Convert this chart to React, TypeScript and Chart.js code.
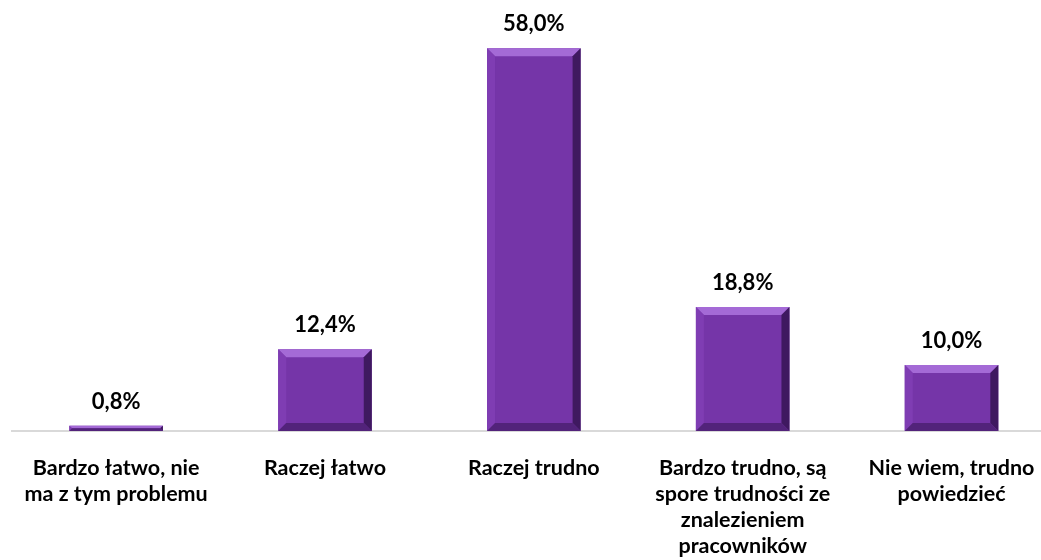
import React, { useEffect, useRef } from "react";
import { Chart, registerables } from "chart.js";

Chart.register(...registerables);

const categories: string[][] = [
  ["Bardzo łatwo, nie", "ma z tym problemu"],
  ["Raczej łatwo"],
  ["Raczej trudno"],
  ["Bardzo trudno, są", "spore trudności ze", "znalezieniem", "pracowników"],
  ["Nie wiem, trudno", "powiedzieć"],
];
const values: number[] = [0.8, 12.4, 58.0, 18.8, 10.0];
const valueLabels: string[] = ["0,8%", "12,4%", "58,0%", "18,8%", "10,0%"];

const FONT = "Lato, 'Open Sans', sans-serif";

const bevelPlugin = {
  id: "bevel",
  afterDatasetsDraw(chart: any) {
    const ctx = chart.ctx;
    const meta = chart.getDatasetMeta(0);
    meta.data.forEach((bar: any) => {
      const w = bar.width;
      const left = bar.x - w / 2;
      const right = bar.x + w / 2;
      const top = Math.min(bar.y, bar.base);
      const bottom = Math.max(bar.y, bar.base);
      const h = bottom - top;
      const b = Math.min(8, h / 2, w / 2);
      if (h < 1) return;
      ctx.save();
      ctx.fillStyle = "#A46AD6";
      ctx.beginPath();
      ctx.moveTo(left, top);
      ctx.lineTo(right, top);
      ctx.lineTo(right - b, top + b);
      ctx.lineTo(left + b, top + b);
      ctx.closePath();
      ctx.fill();
      ctx.fillStyle = "#7F3DB3";
      ctx.beginPath();
      ctx.moveTo(left, top);
      ctx.lineTo(left + b, top + b);
      ctx.lineTo(left + b, bottom - b);
      ctx.lineTo(left, bottom);
      ctx.closePath();
      ctx.fill();
      ctx.fillStyle = "#3F1960";
      ctx.beginPath();
      ctx.moveTo(right, top);
      ctx.lineTo(right - b, top + b);
      ctx.lineTo(right - b, bottom - b);
      ctx.lineTo(right, bottom);
      ctx.closePath();
      ctx.fill();
      ctx.fillStyle = "#52237A";
      ctx.beginPath();
      ctx.moveTo(left, bottom);
      ctx.lineTo(right, bottom);
      ctx.lineTo(right - b, bottom - b);
      ctx.lineTo(left + b, bottom - b);
      ctx.closePath();
      ctx.fill();
      ctx.restore();
    });
  },
};

const valueLabelPlugin = {
  id: "valueLabels",
  afterDatasetsDraw(chart: any) {
    const ctx = chart.ctx;
    const meta = chart.getDatasetMeta(0);
    ctx.save();
    ctx.font = `bold 22px ${FONT}`;
    ctx.fillStyle = "#000000";
    ctx.textAlign = "center";
    ctx.textBaseline = "middle";
    meta.data.forEach((bar: any, i: number) => {
      ctx.fillText(valueLabels[i], bar.x, bar.y - 24);
    });
    ctx.restore();
  },
};

export default function App() {
  const ref = useRef<HTMLCanvasElement>(null);
  useEffect(() => {
    if (!ref.current) return;
    const chart = new Chart(ref.current, {
      type: "bar",
      data: {
        labels: categories as any,
        datasets: [
          {
            data: values,
            backgroundColor: "#7535A8",
            borderWidth: 0,
            barPercentage: 0.896,
            categoryPercentage: 0.5,
          },
        ],
      },
      options: {
        animation: false,
        responsive: false,
        devicePixelRatio: 1,
        layout: { padding: { top: 35, left: 6, right: 1, bottom: -23 } },
        plugins: {
          legend: { display: false },
          tooltip: { enabled: false },
        },
        scales: {
          x: {
            grid: { display: false, drawTicks: false },
            border: { display: true, color: "#D9D9D9", width: 2 },
            ticks: {
              color: "#000000",
              padding: 24,
              maxRotation: 0,
              autoSkip: false,
              font: { family: FONT, size: 21.5, weight: "bold", lineHeight: "26px" } as any,
            },
          },
          y: {
            display: false,
            min: 0,
            max: 60,
          },
        },
      },
      plugins: [bevelPlugin, valueLabelPlugin],
    });
    return () => chart.destroy();
  }, []);
  return (
    <div style={{ position: "absolute", left: 0, top: 0, width: 1041, height: 560, overflow: "hidden", background: "#fff" }}>
      <canvas ref={ref} width={1058} height={560} style={{ display: "block" }} />
    </div>
  );
}
